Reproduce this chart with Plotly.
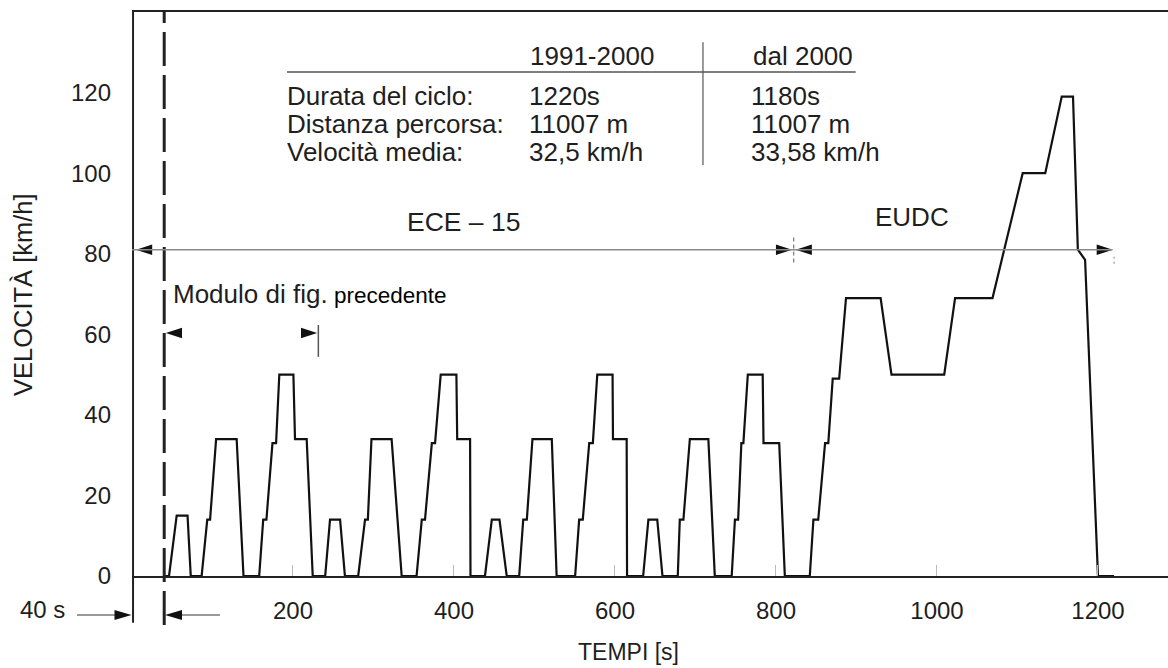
import plotly.graph_objects as go

# ---- Speed profile (time in s, speed in km/h) ----
# ECE-15 urban modules
t_ece1 = [40, 46, 55.5, 69, 73, 86.5, 93.5, 97, 104.5, 130, 138.5,
          158, 163, 167, 174.5, 179, 183, 200.5, 202.5, 217, 224.5]
v_ece1 = [0, 0, 15, 15, 0, 0, 14, 14, 34, 34, 0,
          0, 14, 14, 33, 33, 50, 50, 34, 34, 0]

t_ece2 = [240, 246, 258.5, 264.5, 281, 289.5, 293, 297.5, 322.5, 335,
          353.5, 360, 364, 372.5, 376.5, 383.5, 403, 404, 420, 420.5]
v_ece2 = [0, 14, 14, 0, 0, 14, 14, 34, 34, 0,
          0, 14, 14, 33, 33, 50, 50, 34, 34, 0]

t_ece3 = [438.5, 447, 456.5, 465.5, 481, 486, 490.5, 497.5, 521.5, 527.5,
          550.5, 555.5, 560, 568, 572.5, 578, 597, 597.5, 614.5, 615]
v_ece3 = [0, 14, 14, 0, 0, 14, 14, 34, 34, 0,
          0, 14, 14, 33, 33, 50, 50, 34, 34, 0]

t_ece4 = [635, 641.5, 652.5, 659, 678, 680.5, 685, 693, 716, 724,
          745, 749, 753, 757, 759.5, 765, 783.5, 784.5, 804, 811]
v_ece4 = [0, 14, 14, 0, 0, 14, 14, 34, 34, 0,
          0, 14, 14, 33, 33, 50, 50, 33, 33, 0]

# Extra-urban part (EUDC)
t_eudc = [842, 846.5, 852.5, 861, 865, 870.5, 878.5, 887, 930, 943.5, 1009,
          1022.5, 1069, 1106.5, 1134.5, 1155, 1169, 1175, 1184, 1200, 1220]
v_eudc = [0, 14, 14, 33, 33, 49, 49, 69, 69, 50, 50,
          69, 69, 100, 100, 119, 119, 81, 78.5, 0, 0]

tempo = t_ece1 + t_ece2 + t_ece3 + t_ece4 + t_eudc
velocita = v_ece1 + v_ece2 + v_ece3 + v_ece4 + v_eudc

y_ticks = [0, 20, 40, 60, 80, 100, 120]
x_ticks = [200, 400, 600, 800, 1000, 1200]

# Summary table
intestazioni = ["1991-2000", "dal 2000"]
righe = ["Durata del ciclo:", "Distanza percorsa:", "Velocità media:"]
col_1991 = ["1220s", "11007 m", "32,5 km/h"]
col_2000 = ["1180s", "11007 m", "33,58 km/h"]

FONT = "Liberation Sans, Arial, Helvetica, sans-serif"
TXT = "#1e1e1e"
W, H = 1168, 668
ML, MR, MT, MB = 132, 0, 12, 92
X_MAX = 1287
Y_MAX = 140


def px2paper_x(p):
    return (p - ML) / (W - ML - MR)


def px2paper_y(p):
    return (H - MB - p) / (H - MT - MB)


fig = go.Figure()

fig.add_trace(go.Scatter(
    x=tempo, y=velocita, mode="lines",
    line=dict(color="#111111", width=2.2),
    hoverinfo="skip", showlegend=False,
))

# arrow heads of the dimension lines inside the plot area
arrow_x = [5, 820, 824.5, 1218.5, 42, 230]
arrow_y = [81, 81, 81, 81, 60.3, 60.3]
arrow_ang = [-90, 90, -90, 90, -90, 90]
fig.add_trace(go.Scatter(
    x=arrow_x, y=arrow_y, mode="markers",
    marker=dict(symbol="arrow", size=17, angle=arrow_ang,
                color="#111111", line=dict(width=0)),
    cliponaxis=False, hoverinfo="skip", showlegend=False,
))

shapes = []
# frame: left axis (extends below the time axis)
shapes.append(dict(type="line", xref="paper", yref="paper",
                   x0=0.001, x1=0.001, y0=-0.083, y1=1,
                   line=dict(color="#222", width=2)))
# dashed start line of the test (40 s)
shapes.append(dict(type="line", xref="x", yref="paper",
                   x0=40, x1=40, y0=-0.087, y1=1,
                   line=dict(color="#222", width=3, dash="34px,9px")))
# 80 km/h dimension line ECE / EUDC
shapes.append(dict(type="line", xref="x", yref="y",
                   x0=0, x1=1218, y0=81, y1=81,
                   line=dict(color="#8a8a8a", width=1.5)))
shapes.append(dict(type="line", xref="x", yref="y",
                   x0=822, x1=822, y0=77.8, y1=84.6,
                   line=dict(color="#777", width=1.2, dash="4px,3px")))
shapes.append(dict(type="line", xref="x", yref="y",
                   x0=1220, x1=1220, y0=77.5, y1=80,
                   line=dict(color="#999", width=1.2, dash="2px,3px")))
# module dimension tick
shapes.append(dict(type="line", xref="x", yref="y",
                   x0=231.5, x1=231.5, y0=54.4, y1=62.3,
                   line=dict(color="#555", width=1.5)))
# 40 s dimension lines under the axis
yy40 = px2paper_y(615)
shapes.append(dict(type="line", xref="paper", yref="paper",
                   x0=px2paper_x(77), x1=px2paper_x(122), y0=yy40, y1=yy40,
                   line=dict(color="#777", width=1.5)))
shapes.append(dict(type="line", xref="paper", yref="paper",
                   x0=px2paper_x(175), x1=px2paper_x(220), y0=yy40, y1=yy40,
                   line=dict(color="#777", width=1.5)))


def head_path(apex_px, y_px, direction, length=17, half=5):
    """Filled arrow head as an SVG path in paper coordinates."""
    bx = apex_px - direction * length
    pts = [(apex_px, y_px), (bx, y_px - half), (bx, y_px + half)]
    d = "M {} {} L {} {} L {} {} Z".format(
        *[v for p in pts for v in (px2paper_x(p[0]), px2paper_y(p[1]))])
    return dict(type="path", xref="paper", yref="paper", path=d,
                fillcolor="#111", line=dict(width=0))


shapes.append(head_path(131.5, 615, +1))
shapes.append(head_path(165, 615, -1))

# table rules
shapes.append(dict(type="line", xref="x", yref="y",
                   x0=192.5, x1=899, y0=125.1, y1=125.1,
                   line=dict(color="#555", width=1.5)))
shapes.append(dict(type="line", xref="x", yref="y",
                   x0=709.3, x1=709.3, y0=102, y1=132.5,
                   line=dict(color="#555", width=1.2)))

ann = []


def txt(x, y, s, size=24, xanchor="left", xref="x", yref="y", angle=0,
        color=TXT, box_h=None):
    a = dict(x=x, y=y, xref=xref, yref=yref, text=s, showarrow=False,
             xanchor=xanchor, yanchor="middle", textangle=angle,
             font=dict(family=FONT, size=size, color=color))
    if box_h is not None:
        # tight box so that the closely spaced table rows do not collide
        a.update(height=box_h, valign="bottom", borderpad=0, borderwidth=0)
    ann.append(a)


# table
txt(492, 129.1, intestazioni[0], size=26)
txt(769, 129.1, intestazioni[1], size=26)
row_y = [118.5, 111.6, 104.7]
for yy, a, b, c in zip(row_y, righe, col_1991, col_2000):
    txt(192.5, yy, a, size=26, box_h=25)
    txt(493.2, yy, b, size=26, box_h=25)
    txt(769, yy, c, size=26, box_h=25)

txt(412.4, 87.9, "ECE – 15", size=26.5, xanchor="center")
txt(969, 89, "EUDC", size=26, xanchor="center")
txt(48.5, 70, "Modulo di fig.", size=26)
txt(248.5, 69.6, "precedente", size=22.5, color="#000")
txt(px2paper_x(42), px2paper_y(609), "40 s", size=24, xanchor="center",
    xref="paper", yref="paper")
txt(px2paper_x(23), px2paper_y(295), "VELOCITÀ [km/h]", size=25.5,
    xanchor="center", xref="paper", yref="paper", angle=-90)
txt(px2paper_x(628), px2paper_y(652), "TEMPI [s]", size=23,
    xanchor="center", xref="paper", yref="paper")

fig.update_layout(
    width=W, height=H,
    margin=dict(l=ML, r=MR, t=MT, b=MB),
    paper_bgcolor="white", plot_bgcolor="white",
    font=dict(family=FONT, size=24, color=TXT),
    shapes=shapes, annotations=ann,
    showlegend=False,
)
fig.update_xaxes(
    range=[0, X_MAX], tickvals=x_ticks, ticktext=[str(v) for v in x_ticks],
    showgrid=False, zeroline=False,
    showline=True, mirror=True, linecolor="#222", linewidth=2,
    ticks="inside", ticklen=11, tickcolor="#bbbbbb", tickwidth=1,
    ticklabelstandoff=12,
    tickfont=dict(family=FONT, size=24, color=TXT),
)
fig.update_yaxes(
    range=[0, Y_MAX], tickvals=y_ticks, ticktext=[str(v) for v in y_ticks],
    showgrid=False, zeroline=False, showline=False,
    ticks="", ticklabelstandoff=20,
    tickfont=dict(family=FONT, size=24, color=TXT),
)

fig.write_html("out.html", config={"displayModeBar": False})
